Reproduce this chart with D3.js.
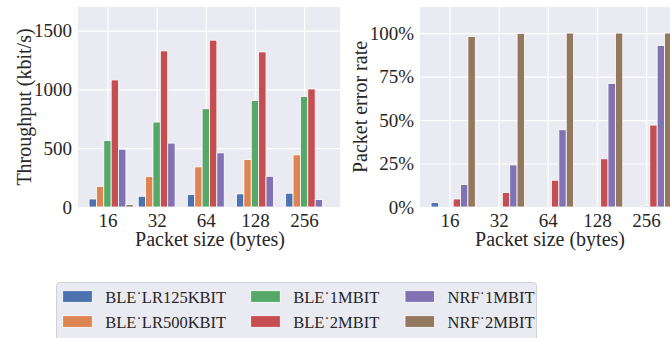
<!DOCTYPE html>
<html>
<head>
<meta charset="utf-8">
<script src="https://cdn.jsdelivr.net/npm/d3@7"></script>
<style>
  body { margin: 0; background: #fff; }
  svg text { font-family: "Liberation Serif", "DejaVu Serif", "Times New Roman", serif; fill: #262626; }
</style>
</head>
<body>
<div id="chart"></div>
<script>
// Packet sizes (x categories) and radio modes (hue)
const sizes = ["16", "32", "64", "128", "256"];
const series = ["BLE˙LR125KBIT", "BLE˙LR500KBIT", "BLE˙1MBIT", "BLE˙2MBIT", "NRF˙1MBIT", "NRF˙2MBIT"];
const colors = ["#4C72B0", "#DD8452", "#55A868", "#C44E52", "#8172B3", "#937860"];

// Throughput in kbit/s, one array per series, ordered as sizes
const thrLR125 = [68, 91, 105, 111, 117];
const thrLR500 = [174, 258, 341, 403, 443];
const thr1M = [565, 722, 835, 906, 940];
const thr2M = [1080, 1327, 1418, 1318, 1003];
const thrNrf1M = [491, 543, 460, 261, 63];
const thrNrf2M = [20, 2, 0, 0, 0];

// Packet error rate (fraction)
const perLR125 = [0.025, 0, 0, 0, 0];
const perLR500 = [0, 0, 0, 0, 0];
const per1M = [0, 0, 0, 0, 0.006];
const per2M = [0.046, 0.083, 0.154, 0.277, 0.471];
const perNrf1M = [0.129, 0.242, 0.444, 0.71, 0.929];
const perNrf2M = [0.981, 0.998, 1.0, 1.0, 1.0];

const yTicksThr = [0, 500, 1000, 1500];
const yTicksPer = [0, 0.25, 0.5, 0.75, 1.0];

const thrData = [thrLR125, thrLR500, thr1M, thr2M, thrNrf1M, thrNrf2M];
const perData = [perLR125, perLR500, per1M, per2M, perNrf1M, perNrf2M];

const width = 670, height = 338;
const plotTop = 7, plotBottom = 207;
const serif = "'Liberation Serif', 'DejaVu Serif', serif";

const svg = d3.select("#chart").append("svg")
  .attr("width", width)
  .attr("height", height)
  .attr("font-family", serif);

// hue offsets inside a group (in category units)
const xSeries = d3.scaleBand().domain(series).range([-0.375, 0.525]);

function drawPanel(left, right, data, yMax, yTicks, yFmt, yLabel, yLabelX, xLabelX) {
  const xIdx = d3.scaleLinear().domain([-0.6, 4.73]).range([left, right]);
  const y = d3.scaleLinear().domain([0, yMax]).range([plotBottom, plotTop]);

  const g = svg.append("g");
  // background
  g.append("rect")
    .attr("x", left).attr("y", plotTop)
    .attr("width", right - left).attr("height", plotBottom - plotTop)
    .attr("fill", "#EAEAF2");

  // grid + tick labels
  const xAxis = g.append("g")
    .attr("transform", `translate(0, ${plotBottom})`)
    .call(d3.axisBottom(xIdx).tickValues(d3.range(sizes.length))
      .tickFormat(i => sizes[i]).tickSize(-(plotBottom - plotTop)).tickPadding(6));
  const yAxis = g.append("g")
    .attr("transform", `translate(${left}, 0)`)
    .call(d3.axisLeft(y).tickValues(yTicks).tickFormat(yFmt)
      .tickSize(-(right - left)).tickPadding(6));

  [xAxis, yAxis].forEach(a => {
    a.attr("font-family", serif).attr("font-size", 19);
    a.select(".domain").remove();
    a.selectAll("line").attr("stroke", "#fff").attr("stroke-width", 1.2);
    a.selectAll("text").attr("fill", "#262626");
  });
  xAxis.selectAll("text").attr("dy", "0.72em");

  // bars
  series.forEach((s, j) => {
    g.selectAll(null)
      .data(data[j])
      .enter()
      .append("rect")
        .attr("x", (d, i) => xIdx(i + xSeries(s)))
        .attr("y", d => y(d))
        .attr("width", xIdx(xSeries.bandwidth()) - xIdx(0))
        .attr("height", d => plotBottom - y(d))
        .attr("fill", colors[j])
        .attr("stroke", "#fff")
        .attr("stroke-width", 0.8);
  });

  // axis labels
  g.append("text")
    .attr("x", xLabelX)
    .attr("y", 246)
    .attr("text-anchor", "middle")
    .attr("font-size", 20)
    .text("Packet size (bytes)");

  g.append("text")
    .attr("transform", `translate(${yLabelX}, ${(plotTop + plotBottom) / 2}) rotate(-90)`)
    .attr("text-anchor", "middle")
    .attr("font-size", 20)
    .text(yLabel);
}

drawPanel(78, 340, thrData, 1700, yTicksThr, d3.format("d"), "Throughput (kbit/s)", 31, 210);
drawPanel(420, 682, perData, 1.15, yTicksPer, d => Math.round(d * 100) + "%", "Packet error rate", 367, 550);

// legend
const legend = svg.append("g");
legend.append("rect")
  .attr("x", 56.5).attr("y", 282.5)
  .attr("width", 480).attr("height", 60)
  .attr("rx", 3)
  .attr("fill", "#EAEAF2")
  .attr("stroke", "#d0d0d6");

const colX = [62.7, 250.7, 405];
series.forEach((s, j) => {
  const c = Math.floor(j / 2), r = j % 2;
  legend.append("rect")
    .attr("x", colX[c]).attr("y", 290.7 + r * 25)
    .attr("width", 29.6).attr("height", 11.6)
    .attr("fill", colors[j])
    .attr("stroke", "#fff").attr("stroke-width", 0.8);
  legend.append("text")
    .attr("x", colX[c] + 42.5).attr("y", 302.5 + r * 25)
    .attr("font-size", 16.5)
    .text(s);
});
</script>
</body>
</html>
